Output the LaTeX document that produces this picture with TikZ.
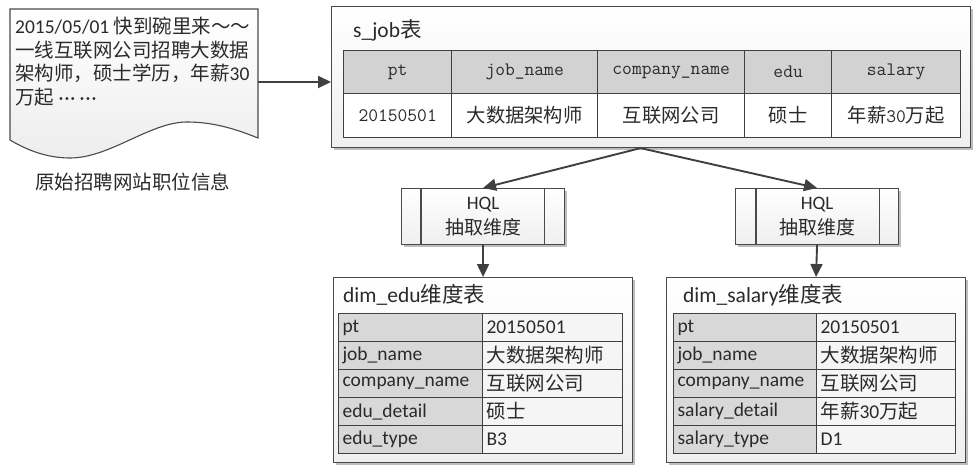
\documentclass[tikz,border=0pt]{standalone}
\usepackage{fontspec}
\setmainfont{Carlito}
\newfontfamily\cjk{Noto Sans CJK SC}
\usetikzlibrary{arrows.meta}
\definecolor{lc}{HTML}{4A4A4A}
\definecolor{ac}{HTML}{404040}
\definecolor{tc}{HTML}{2A2A2A}
\definecolor{hd}{HTML}{D2D2D2}
\definecolor{lf}{HTML}{D8D8D8}
\definecolor{rf}{HTML}{F5F5F5}
\definecolor{bx}{HTML}{EFEFEF}
\definecolor{sh}{HTML}{BDBDBD}
\begin{document}
\begin{tikzpicture}[x=1pt,y=-1pt,
  every node/.style={text=tc},
  box/.style={draw=lc, line width=1.1pt, top color=white, bottom color=bx, anchor=north west, inner sep=0pt},
  arr/.style={draw=ac, line width=1.9pt, -{Triangle[length=13pt,width=12pt]}},
  hcell/.style={draw=ac, line width=1.3pt, fill=hd, anchor=north west, inner sep=0pt, font=\ttfamily\fontsize{19}{20}\selectfont},
  dcell/.style={draw=ac, line width=1.3pt, fill=white, anchor=north west, inner sep=0pt, font=\ttfamily\fontsize{19}{20}\selectfont},
  lcell/.style={draw=ac, line width=1.1pt, fill=lf, anchor=north west, inner xsep=4pt, inner ysep=0pt, minimum height=28pt, align=left, font=\fontsize{19.5}{21}\selectfont},
  rcell/.style={draw=ac, line width=1.1pt, fill=rf, anchor=north west, inner xsep=4pt, inner ysep=0pt, minimum height=28pt, align=left, font=\fontsize{19.5}{21}\selectfont},
  ttl/.style={anchor=west, inner sep=0pt, font=\fontsize{21.5}{24}\selectfont},
  sep/.style={draw=lc, line width=1.1pt}
]
\useasboundingbox (0,0) rectangle (973,465);

% source document
\path[draw=lc, line width=1.1pt, top color=white, bottom color=gray!14]
  (10,9) -- (258,9) -- (258,138)
  .. controls (238,130) and (215,122) .. (187,122)
  .. controls (150,122) and (110,158) .. (70,158)
  .. controls (50,158) and (30,152) .. (10,140) -- cycle;
\node[inner sep=0pt, minimum width=248pt, minimum height=131pt, anchor=north west] (doc) at (10,9) {};
\node[anchor=north west, align=left, inner sep=0pt, font=\fontsize{19.5}{23.5}\selectfont] (doctext) at (15,17)
  {2015/05/01 {\cjk 快到碗里来～～}\\{\cjk 一线互联网公司招聘大数据}\\{\cjk 架构师，硕士学历，年薪}30\\{\cjk 万起} ·\kern1pt·\kern1pt· ·\kern1pt·\kern1pt·};
\node[font=\cjk\fontsize{19.5}{22}\selectfont] (cap) at (132.5,182) {原始招聘网站职位信息};

% s_job table
\fill[sh] (334,9) rectangle (973,150);
\node[box, minimum width=639pt, minimum height=141pt] (sjob) at (331,6) {};
\node[ttl] (sjobt) at (353,30) {s\_job{\cjk 表}};
\node[hcell, minimum width=108pt, minimum height=43pt] (h1) at (343,50) {pt};
\node[hcell, minimum width=146pt, minimum height=43pt] (h2) at (451,50) {job\_name};
\node[hcell, minimum width=147pt, minimum height=43pt] (h3) at (597,50) {company\_name};
\node[hcell, minimum width=87pt, minimum height=43pt] (h4) at (744,50) {edu};
\node[hcell, minimum width=129pt, minimum height=43pt] (h5) at (831,50) {salary};
\node[dcell, minimum width=108pt, minimum height=44pt] (d1) at (343,93) {20150501};
\node[dcell, minimum width=146pt, minimum height=44pt] (d2) at (451,93) {\cjk\fontsize{19.3}{20}\selectfont 大数据架构师};
\node[dcell, minimum width=147pt, minimum height=44pt] (d3) at (597,93) {\cjk\fontsize{19.3}{20}\selectfont 互联网公司};
\node[dcell, minimum width=87pt, minimum height=44pt] (d4) at (744,93) {\cjk\fontsize{19.3}{20}\selectfont 硕士};
\node[dcell, minimum width=129pt, minimum height=44pt] (d5) at (831,93) {{\cjk\fontsize{19.3}{20}\selectfont 年薪}30{\cjk\fontsize{19.3}{20}\selectfont 万起}};

% HQL boxes
\fill[sh] (404,191) rectangle (567,247);
\node[box, minimum width=163pt, minimum height=56pt] (hql1) at (401,188) {};
\draw[sep] ([xshift=20pt]hql1.north west) -- ([xshift=20pt]hql1.south west);
\draw[sep] ([xshift=-21pt]hql1.north east) -- ([xshift=-21pt]hql1.south east);
\node[align=center, font=\fontsize{19}{25}\selectfont] (hql1t) at (hql1.center) {HQL\\{\cjk 抽取维度}};

\fill[sh] (738,191) rectangle (901,247);
\node[box, minimum width=163pt, minimum height=56pt] (hql2) at (735,188) {};
\draw[sep] ([xshift=21pt]hql2.north west) -- ([xshift=21pt]hql2.south west);
\draw[sep] ([xshift=-20pt]hql2.north east) -- ([xshift=-20pt]hql2.south east);
\node[align=center, font=\fontsize{19}{25}\selectfont] (hql2t) at (hql2.center) {HQL\\{\cjk 抽取维度}};

% dim_edu
\fill[sh] (336,280) rectangle (635,465);
\node[box, minimum width=299pt, minimum height=185pt] (dedu) at (333,277) {};
\node[ttl] (dedut) at (343,295) {dim\_edu{\cjk 维度表}};
\foreach \r/\a/\b in {1/pt/20150501,2/job\_name/{\cjk 大数据架构师},3/company\_name/{\cjk 互联网公司},4/edu\_detail/{\cjk 硕士},5/edu\_type/B3}{
  \node[lcell, text width=136pt] (el\r) at (338,{313+28*(\r-1)}) {\a};
  \node[rcell, text width=132pt] (er\r) at (482,{313+28*(\r-1)}) {\b};
}

% dim_salary
\fill[sh] (669,280) rectangle (968,465);
\node[box, minimum width=299pt, minimum height=185pt] (dsal) at (666,277) {};
\node[ttl] (dsalt) at (683,295) {dim\_salary{\cjk 维度表}};
\foreach \r/\a/\b in {1/pt/20150501,2/job\_name/{\cjk 大数据架构师},3/company\_name/{\cjk 互联网公司},4/salary\_detail/{{\cjk 年薪}30{\cjk 万起}},5/salary\_type/D1}{
  \node[lcell, text width=135pt] (sl\r) at (673,{313+28*(\r-1)}) {\a};
  \node[rcell, text width=131pt] (sr\r) at (816,{313+28*(\r-1)}) {\b};
}

% connectors
\coordinate (docR) at (258,82);
\draw[arr] (docR) -- (docR -| sjob.west);
\coordinate (ap) at ([xshift=-10.5pt]sjob.south);
\draw[arr] (ap) -- (hql1.north);
\draw[arr] (ap) -- (hql2.north);
\draw[arr] (hql1.south) -- (dedu.north);
\draw[arr] (hql2.south) -- (dsal.north);
\end{tikzpicture}
\end{document}
